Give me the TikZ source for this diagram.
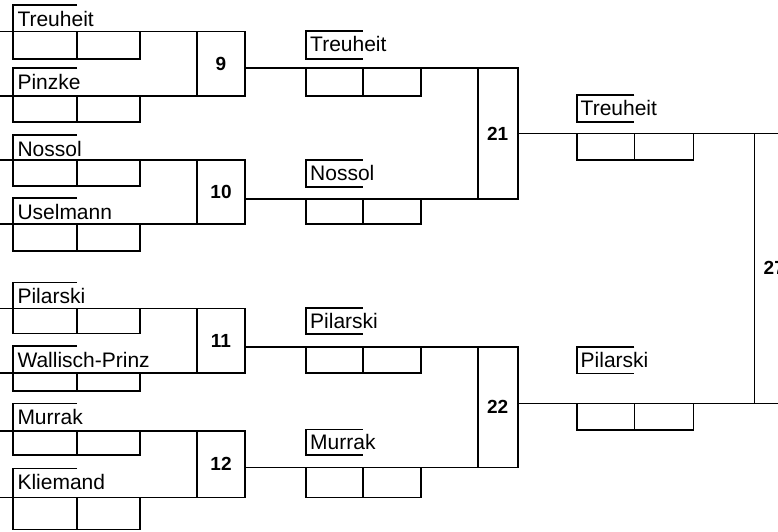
\documentclass[tikz,border=0pt]{standalone}
\usepackage{fontspec}
\setmainfont{Liberation Sans}
\begin{document}
\begin{tikzpicture}[x=1pt,y=-1pt,
  ln/.style={line width=1.6pt, line join=miter},
  nm/.style={anchor=base west, inner sep=0pt, font=\fontsize{21}{25}\selectfont},
  matchbox/.style={draw, line width=1.6pt, inner sep=0pt, font=\bfseries\fontsize{19}{22}\selectfont}
]
\useasboundingbox (0,0) rectangle (778,531);
\clip (0,0) rectangle (778,531);
% ---------- round 1 ----------
\foreach \T/\L/\B/\nam/\id in {
  4.7/31.5/59/Treuheit/a,
  68/95.7/122/Pinzke/b,
  135/160/186/Nossol/c,
  197.7/224/250.7/Uselmann/d,
  282.3/308.3/333.3/Pilarski/e,
  346/372.7/391/Wallisch-Prinz/f,
  403.3/430.7/455/Murrak/g,
  468.3/497.3/529.3/Kliemand/h}{
  \draw[ln] (0,\L) -- (245,\L);
  \draw[ln] (77,\T) -- (13,\T) -- (13,\B) -- (140,\B) -- (140,\L);
  \draw[ln] (77,\L) -- (77,\B);
  \node[nm] (ra\id) at (17.3,\T+21.3) {\nam};
}
\node[matchbox, minimum width=48pt, minimum height=64.2pt] (m9) at (221,63.6) {9};
\node[matchbox, minimum width=48pt, minimum height=64pt] (m10) at (221,192) {10};
\node[matchbox, minimum width=48pt, minimum height=64.4pt] (m11) at (221,340.5) {11};
\node[matchbox, minimum width=48pt, minimum height=66.6pt] (m12) at (221,464) {12};
% ---------- round 2 ----------
\foreach \T/\N/\L/\B/\nam/\id in {
  30.7/59/68/95.7/Treuheit/a,
  160/186.7/199/224/Nossol/b,
  307.7/334/346.7/372.7/Pilarski/c,
  429.3/455/467.3/497.3/Murrak/d}{
  \draw[ln] (245,\L) -- (518,\L);
  \draw[ln] (362.7,\T) -- (305.7,\T) -- (305.7,\N) -- (362.7,\N);
  \draw[ln] (305.7,\L) -- (305.7,\B) -- (421,\B) -- (421,\L);
  \draw[ln] (362.7,\L) -- (362.7,\B);
  \node[nm] (rb\id) at (310,\T+20.5) {\nam};
}
\node[matchbox, minimum width=40pt, minimum height=131pt] (m21) at (497.7,133.5) {21};
\node[matchbox, minimum width=40pt, minimum height=120.6pt] (m22) at (497.7,407) {22};
% ---------- round 3 ----------
\foreach \T/\N/\L/\B/\nam/\id in {
  95/121.7/133.3/160/Treuheit/a,
  346.7/373.3/403.3/430/Pilarski/b}{
  \draw[ln] (518,\L) -- (800,\L);
  \draw[ln] (634.3,\T) -- (576.7,\T) -- (576.7,\N) -- (634.3,\N);
  \draw[ln] (576.7,\L) -- (576.7,\B) -- (693.3,\B) -- (693.3,\L);
  \draw[ln] (634.3,\L) -- (634.3,\B);
  \node[nm] (rc\id) at (580.5,\T+20.3) {\nam};
}
\node[matchbox, minimum width=40pt, minimum height=270pt] (m27) at (774.3,268.3) {27};
\end{tikzpicture}
\end{document}
